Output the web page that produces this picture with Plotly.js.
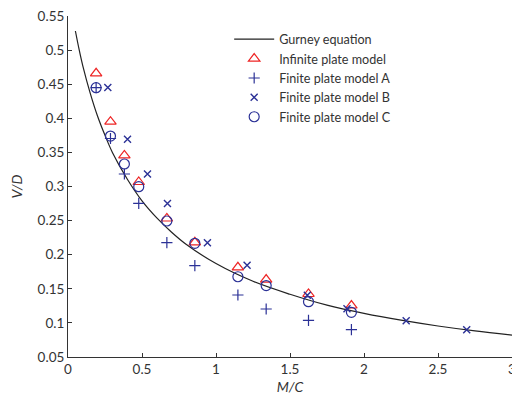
<!DOCTYPE html>
<html>
<head>
<meta charset="utf-8">
<script src="https://cdn.plot.ly/plotly-3.0.1.min.js"></script>
<style>html,body{margin:0;padding:0;background:#fff;}#chart{width:512px;height:398px;}</style>
</head>
<body>
<div id="chart"></div>
<script>
// Gurney equation curve
const gurneyX = [0.05, 0.075, 0.1, 0.15, 0.2, 0.25, 0.3, 0.4, 0.5, 0.6, 0.7, 0.8, 1.0, 1.25, 1.5, 1.75, 2.0, 2.25, 2.5, 2.75, 3.0];
const gurneyY = [0.528, 0.501, 0.477, 0.437, 0.403, 0.375, 0.350, 0.311, 0.279, 0.254, 0.233, 0.215, 0.187, 0.161, 0.142, 0.126, 0.114, 0.104, 0.0955, 0.0883, 0.0822];

// Infinite plate model (triangles)
const infX = [0.19, 0.287, 0.381, 0.478, 0.668, 0.857, 1.148, 1.339, 1.625, 1.915];
const infY = [0.466, 0.395, 0.3455, 0.3066, 0.2531, 0.2182, 0.1815, 0.1635, 0.1424, 0.1255];

// Finite plate model A (+)
const aX = [0.19, 0.287, 0.381, 0.478, 0.668, 0.857, 1.148, 1.339, 1.625, 1.915];
const aY = [0.445, 0.3704, 0.3183, 0.2754, 0.2176, 0.1839, 0.1409, 0.1204, 0.1038, 0.090];

// Finite plate model B (x)
const bX = [0.269, 0.402, 0.537, 0.672, 0.942, 1.210, 1.617, 1.885, 2.285, 2.694];
const bY = [0.445, 0.3694, 0.3183, 0.275, 0.2176, 0.1846, 0.1406, 0.1207, 0.1032, 0.090];

// Finite plate model C (o)
const cX = [0.19, 0.287, 0.381, 0.478, 0.668, 0.857, 1.148, 1.339, 1.625, 1.915];
const cY = [0.4449, 0.374, 0.333, 0.2997, 0.2494, 0.2167, 0.1677, 0.1548, 0.1311, 0.1155];

const xTicks = [0, 0.5, 1, 1.5, 2, 2.5, 3];
const xTickText = ['0', '0.5', '1', '1.5', '2', '2.5', '3'];
const yTicks = [0.05, 0.1, 0.15, 0.2, 0.25, 0.3, 0.35, 0.4, 0.45, 0.5, 0.55];
const yTickText = ['0.05', '0.1', '0.15', '0.2', '0.25', '0.3', '0.35', '0.4', '0.45', '0.5', '0.55'];

const blue = '#2b3196';
const red = '#ee2424';
const FONT = 'Lato, "Open Sans", sans-serif';

const traces = [
  {x: gurneyX, y: gurneyY, mode: 'lines', name: 'Gurney equation',
   line: {color: '#222222', width: 1.2, shape: 'spline'}},
  {x: infX, y: infY, mode: 'markers', name: 'Infinite plate model',
   marker: {symbol: 'triangle-up-open', size: 10, color: red, line: {width: 1.2, color: red}}},
  {x: aX, y: aY, mode: 'markers', name: 'Finite plate model A',
   marker: {symbol: 'cross-thin-open', size: 8, color: blue, line: {width: 1.2, color: blue}}},
  {x: bX, y: bY, mode: 'markers', name: 'Finite plate model B',
   marker: {symbol: 'x-thin-open', size: 7, color: blue, line: {width: 1.4, color: blue}}},
  {x: cX, y: cY, mode: 'markers', name: 'Finite plate model C',
   marker: {symbol: 'circle-open', size: 10, color: blue, line: {width: 1.2, color: blue}}}
];

const layout = {
  width: 512, height: 398,
  margin: {l: 68, r: 0, t: 16, b: 41},
  paper_bgcolor: '#ffffff', plot_bgcolor: '#ffffff',
  font: {family: FONT, size: 13, color: '#333333'},
  showlegend: true,
  legend: {x: 0.363, y: 0.975, xanchor: 'left', yanchor: 'top', itemwidth: 40,
           bgcolor: 'rgba(0,0,0,0)', borderwidth: 0,
           font: {family: FONT, size: 12.6, color: '#333333'}},
  xaxis: {range: [0, 3], tickvals: xTicks, ticktext: xTickText,
          ticks: 'inside', ticklen: 4, tickcolor: '#333', showgrid: false, zeroline: false,
          showline: true, linecolor: '#333', linewidth: 1, mirror: false,
          ticklabeloverflow: 'allow',
          tickfont: {size: 13.5, color: '#333'},
          title: {text: '<i>M/C</i>', font: {size: 14, color: '#333'}, standoff: 5}},
  yaxis: {range: [0.05, 0.55], tickvals: yTicks, ticktext: yTickText,
          ticks: 'inside', ticklen: 4, tickcolor: '#333', showgrid: false, zeroline: false,
          showline: true, linecolor: '#333', linewidth: 1, mirror: false,
          tickfont: {size: 13.5, color: '#333'},
          title: {text: '<i>V/D</i>', font: {size: 14, color: '#333'}, standoff: 11}}
};

Plotly.newPlot('chart', traces, layout, {displayModeBar: false, staticPlot: true});
</script>
</body>
</html>
